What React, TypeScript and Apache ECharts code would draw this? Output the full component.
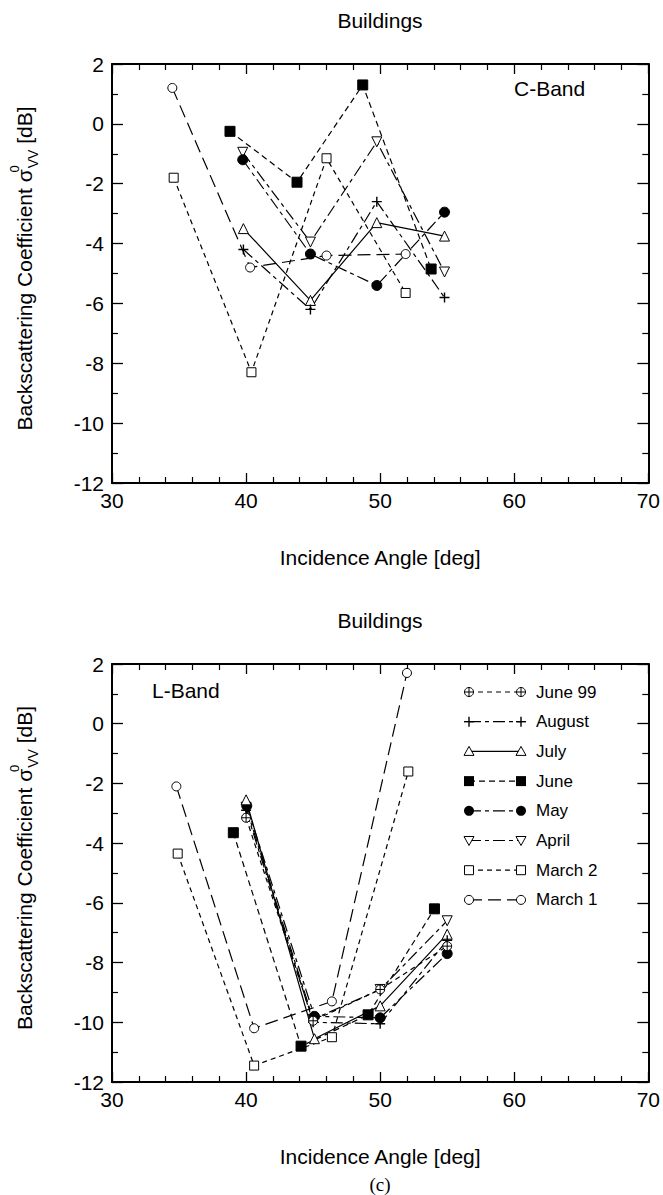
import React, { useEffect, useRef } from "react";
import * as echarts from "echarts";

// ---------- data ----------
const xTickValues = [30, 40, 50, 60, 70];
const yTickValues = [-12, -10, -8, -6, -4, -2, 0, 2];

// C-Band [angle, sigma0 dB]
const cMarch1 = [[34.5, 1.2], [40.3, -4.8], [46.0, -4.4], [51.9, -4.35]];
const cMarch2 = [[34.6, -1.8], [40.4, -8.3], [46.0, -1.15], [51.9, -5.65]];
const cApril = [[39.75, -0.95], [44.8, -3.95], [49.75, -0.6], [54.8, -4.95]];
const cMay = [[39.75, -1.2], [44.8, -4.35], [49.75, -5.4], [54.8, -2.95]];
const cJune = [[38.8, -0.25], [43.8, -1.95], [48.7, 1.3], [53.8, -4.85]];
const cJuly = [[39.8, -3.5], [44.8, -5.9], [49.75, -3.3], [54.8, -3.75]];
const cAugust = [[39.8, -4.2], [44.8, -6.2], [49.75, -2.6], [54.8, -5.8]];

// L-Band
const lMarch1 = [[34.8, -2.1], [40.6, -10.2], [46.4, -9.3], [52.0, 1.7]];
const lMarch2 = [[34.9, -4.35], [40.6, -11.45], [46.4, -10.5], [52.1, -1.6]];
const lApril = [[40.0, -2.8], [45.0, -9.9], [50.0, -8.9], [55.0, -6.6]];
const lMay = [[40.05, -2.75], [45.1, -9.8], [50.0, -9.85], [55.0, -7.7]];
const lJune = [[39.05, -3.65], [44.1, -10.8], [49.1, -9.75], [54.05, -6.2]];
const lJuly = [[40.0, -2.55], [45.1, -10.55], [50.0, -9.45], [55.0, -7.05]];
const lAugust = [[40.0, -2.9], [45.0, -10.0], [50.0, -10.05], [55.0, -7.25]];
const lJune99 = [[40.0, -3.15], [45.0, -9.95], [50.0, -8.9], [55.0, -7.45]];

const legendNames = ["June 99", "August", "July", "June", "May", "April", "March 2", "March 1"];

// ---------- styles ----------
const FONT = "Liberation Sans, Arial, Helvetica, sans-serif";
const BLACK = "#000";
const LONG_SHORT = [12, 4, 4, 4];
const SHORT = [5, 4];
const LONG = [13, 6];

type Kind = "oplus" | "plus" | "tri" | "fsq" | "fcirc" | "dtri" | "osq" | "ocirc";

const styleByName: Record<string, { kind: Kind; dash: any }> = {
  "June 99": { kind: "oplus", dash: SHORT },
  August: { kind: "plus", dash: LONG_SHORT },
  July: { kind: "tri", dash: "solid" },
  June: { kind: "fsq", dash: [6, 4] },
  May: { kind: "fcirc", dash: LONG_SHORT },
  April: { kind: "dtri", dash: LONG_SHORT },
  "March 2": { kind: "osq", dash: SHORT },
  "March 1": { kind: "ocirc", dash: LONG },
};

const symbolDef: Record<Kind, { symbol: string; size: number; fill: string; rotate?: number; bw?: number }> = {
  oplus: { symbol: "path://M0,-5A5,5 0 1,1 0,5A5,5 0 1,1 0,-5ZM-5,0L5,0M0,-5L0,5", size: 9, fill: "#fff" },
  plus: { symbol: "path://M-5,0L5,0M0,-5L0,5", size: 10, fill: "#fff", bw: 1.4 },
  tri: { symbol: "triangle", size: 10, fill: "#fff" },
  fsq: { symbol: "rect", size: 10, fill: BLACK },
  fcirc: { symbol: "circle", size: 10, fill: BLACK },
  dtri: { symbol: "triangle", size: 10, fill: "#fff", rotate: 180 },
  osq: { symbol: "rect", size: 9, fill: "#fff" },
  ocirc: { symbol: "circle", size: 9, fill: "#fff" },
};

function makeSeries(name: string, data: number[][], grid: number) {
  const st = styleByName[name];
  const sd = symbolDef[st.kind];
  return {
    type: "line",
    name,
    data,
    xAxisIndex: grid * 2,
    yAxisIndex: grid * 2,
    symbol: sd.symbol,
    symbolSize: sd.size,
    symbolRotate: sd.rotate || 0,
    showSymbol: true,
    itemStyle: { color: sd.fill, borderColor: BLACK, borderWidth: sd.bw || 1 },
    lineStyle: { color: BLACK, width: 1.2, type: st.dash },
    emphasis: { disabled: true },
    z: 3,
  };
}

const GRIDS = [
  { left: 110, top: 64, width: 540, height: 419 },
  { left: 110, top: 664, width: 540, height: 418 },
];

function xAxes(grid: number) {
  const common = {
    type: "value",
    gridIndex: grid,
    min: 30,
    max: 70,
    interval: 10,
    splitLine: { show: false },
    axisLine: { show: true, onZero: false, lineStyle: { color: BLACK, width: 2 } },
    axisTick: { show: true, inside: true, length: 10, lineStyle: { color: BLACK, width: 1.3 } },
    minorTick: { show: true, splitNumber: 5, length: 6, lineStyle: { color: BLACK, width: 1.2 } },
    minorSplitLine: { show: false },
  };
  return [
    {
      ...common,
      position: "bottom",
      axisLabel: {
        show: true,
        margin: 7,
        fontSize: 21,
        fontFamily: FONT,
        color: BLACK,
        formatter: (v: number) => (xTickValues.includes(v) ? String(v) : ""),
      },
      name: "Incidence Angle [deg]",
      nameLocation: "middle",
      nameGap: 64,
      nameTextStyle: { fontSize: 21, fontFamily: FONT, color: BLACK },
    },
    { ...common, position: "top", axisLabel: { show: false } },
  ];
}

function yAxes(grid: number) {
  const common = {
    type: "value",
    gridIndex: grid,
    min: -12,
    max: 2,
    interval: 2,
    splitLine: { show: false },
    axisLine: { show: true, onZero: false, lineStyle: { color: BLACK, width: 2 } },
    axisTick: { show: true, inside: true, length: 11, lineStyle: { color: BLACK, width: 1.3 } },
    minorTick: { show: true, splitNumber: 2, length: 6, lineStyle: { color: BLACK, width: 1.2 } },
    minorSplitLine: { show: false },
  };
  return [
    {
      ...common,
      position: "left",
      axisLabel: {
        show: true,
        margin: 8,
        fontSize: 21,
        fontFamily: FONT,
        color: BLACK,
        formatter: (v: number) => (yTickValues.includes(v) ? String(v) : ""),
      },
      name: "{t|Backscattering Coefficient σ}{sup|0}{sub|VV}{t| [dB]}",
      nameLocation: "middle",
      nameRotate: 90,
      nameGap: 72,
      nameTextStyle: {
        color: BLACK,
        padding: [0, 0, 0, 10],
        rich: {
          t: { fontSize: 21, fontFamily: FONT, color: BLACK, lineHeight: 32, verticalAlign: "middle" },
          sup: { fontSize: 13, fontFamily: FONT, color: BLACK, lineHeight: 32, verticalAlign: "top", width: 1 },
          sub: { fontSize: 14, fontFamily: FONT, color: BLACK, lineHeight: 32, verticalAlign: "bottom" },
        },
      },
    },
    { ...common, position: "right", axisLabel: { show: false } },
  ];
}

function markerGraphics(kind: Kind, cx: number, cy: number): any[] {
  const s = { fill: "#fff", stroke: BLACK, lineWidth: 1 };
  const r = 4.5;
  switch (kind) {
    case "oplus":
      return [
        { type: "circle", shape: { cx, cy, r }, style: s },
        { type: "line", shape: { x1: cx - r, y1: cy, x2: cx + r, y2: cy }, style: { stroke: BLACK, lineWidth: 1 } },
        { type: "line", shape: { x1: cx, y1: cy - r, x2: cx, y2: cy + r }, style: { stroke: BLACK, lineWidth: 1 } },
      ];
    case "plus":
      return [
        { type: "line", shape: { x1: cx - 5, y1: cy, x2: cx + 5, y2: cy }, style: { stroke: BLACK, lineWidth: 1.4 } },
        { type: "line", shape: { x1: cx, y1: cy - 5, x2: cx, y2: cy + 5 }, style: { stroke: BLACK, lineWidth: 1.4 } },
      ];
    case "tri":
      return [{ type: "polygon", shape: { points: [[cx, cy - 5], [cx + 5, cy + 4], [cx - 5, cy + 4]] }, style: s }];
    case "dtri":
      return [{ type: "polygon", shape: { points: [[cx, cy + 5], [cx + 5, cy - 4], [cx - 5, cy - 4]] }, style: s }];
    case "fsq":
      return [{ type: "rect", shape: { x: cx - 5, y: cy - 5, width: 10, height: 10 }, style: { fill: BLACK } }];
    case "osq":
      return [{ type: "rect", shape: { x: cx - 4.5, y: cy - 4.5, width: 9, height: 9 }, style: s }];
    case "fcirc":
      return [{ type: "circle", shape: { cx, cy, r: 5 }, style: { fill: BLACK } }];
    case "ocirc":
      return [{ type: "circle", shape: { cx, cy, r }, style: s }];
  }
  return [];
}

function legendGraphics(): any[] {
  const out: any[] = [];
  const x1 = 469;
  const x2 = 521;
  const y0 = 692;
  const dy = 29.7;
  legendNames.forEach((name, i) => {
    const st = styleByName[name];
    const y = y0 + i * dy;
    out.push({
      type: "line",
      shape: { x1, y1: y, x2, y2: y },
      style: { stroke: BLACK, lineWidth: 1.2, lineDash: st.dash === "solid" ? null : st.dash },
      z: 10,
    });
    markerGraphics(st.kind, x1, y).forEach((g) => out.push({ ...g, z: 11 }));
    markerGraphics(st.kind, x2, y).forEach((g) => out.push({ ...g, z: 11 }));
    out.push({
      type: "text",
      x: 536,
      y,
      style: { text: name, font: `17px ${FONT}`, fill: BLACK, align: "left", verticalAlign: "middle" },
      z: 11,
    });
  });
  return out;
}

export default function App() {
  const ref = useRef<HTMLDivElement>(null);
  useEffect(() => {
    if (!ref.current) return;
    const chart = echarts.init(ref.current, null, { renderer: "svg" });
    const cData: [string, number[][]][] = [
      ["March 1", cMarch1],
      ["March 2", cMarch2],
      ["April", cApril],
      ["May", cMay],
      ["June", cJune],
      ["July", cJuly],
      ["August", cAugust],
    ];
    const lData: [string, number[][]][] = [
      ["March 1", lMarch1],
      ["March 2", lMarch2],
      ["April", lApril],
      ["May", lMay],
      ["June", lJune],
      ["July", lJuly],
      ["August", lAugust],
      ["June 99", lJune99],
    ];
    const series = [
      ...cData.map(([n, d]) => makeSeries(n, d, 0)),
      ...lData.map(([n, d]) => makeSeries(n, d, 1)),
    ];
    chart.setOption({
      animation: false,
      backgroundColor: "#fff",
      grid: GRIDS.map((g) => ({ ...g, containLabel: false })),
      xAxis: [...xAxes(0), ...xAxes(1)],
      yAxis: [...yAxes(0), ...yAxes(1)],
      series,
      graphic: [
        { type: "text", x: 380, y: 20, style: { text: "Buildings", font: `21px ${FONT}`, fill: BLACK, align: "center", verticalAlign: "middle" } },
        { type: "text", x: 380, y: 620, style: { text: "Buildings", font: `21px ${FONT}`, fill: BLACK, align: "center", verticalAlign: "middle" } },
        { type: "text", x: 514, y: 88, style: { text: "C-Band", font: `21px ${FONT}`, fill: BLACK, align: "left", verticalAlign: "middle" } },
        { type: "text", x: 152, y: 690, style: { text: "L-Band", font: `21px ${FONT}`, fill: BLACK, align: "left", verticalAlign: "middle" } },
        { type: "text", x: 380, y: 1184, style: { text: "(c)", font: `19px Liberation Serif, Times New Roman, serif`, fill: BLACK, align: "center", verticalAlign: "middle" } },
        ...legendGraphics(),
      ],
    });
    return () => chart.dispose();
  }, []);
  return (
    <div
      ref={ref}
      style={{ position: "absolute", left: 0, top: 0, width: 663, height: 1195, background: "#fff" }}
    />
  );
}
